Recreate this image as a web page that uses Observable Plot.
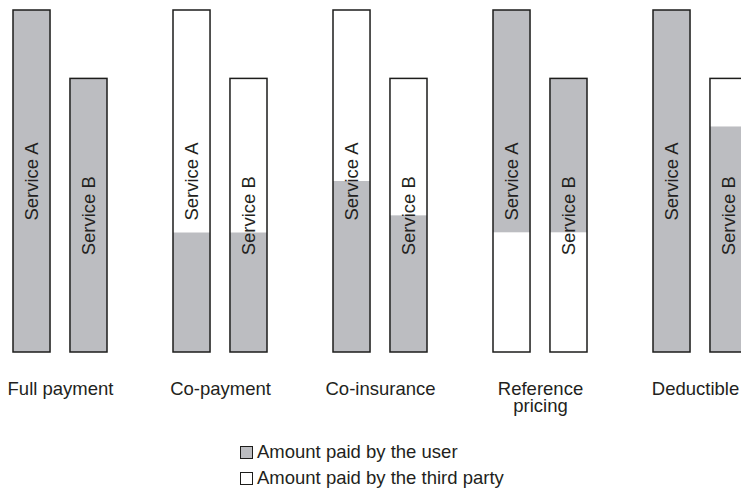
<!DOCTYPE html>
<html>
<head>
<meta charset="utf-8">
<script src="https://cdn.jsdelivr.net/npm/d3@7"></script>
<script src="https://cdn.jsdelivr.net/npm/@observablehq/plot@0.6"></script>
<style>
  html, body { margin: 0; padding: 0; background: #fff; }
  body { width: 741px; height: 492px; overflow: hidden; position: relative;
         font-family: "Liberation Sans", Arial, Helvetica, sans-serif; color: #231f20; }
  #chart { position: absolute; left: 0; top: 0; width: 747px; }
  #chart svg { display: block; max-width: none !important; }
  .legend { position: absolute; left: 240px; top: 0; font-size: 18.5px; line-height: 1; }
  .legend .row { position: absolute; left: 0; white-space: nowrap; height: 14px; }
  .legend .sw { position: absolute; left: 0; top: 0; width: 11px; height: 11px; border: 1.6px solid #1d1d1b; }
  .legend .lbl { position: absolute; left: 17px; top: -3px; }
</style>
</head>
<body>
<div id="chart"></div>
<div class="legend" id="legend"></div>
<script>
// ---- data ----
const policies = ["Full payment", "Co-payment", "Co-insurance", "Reference pricing", "Deductible"];
const policyLabels = ["Full payment", "Co-payment", "Co-insurance", "Reference\npricing", "Deductible"];
const services = ["Service A", "Service B"];
const userPaidA  = [100, 35, 50, 65, 100];
const thirdPaidA = [0, 65, 50, 35, 0];
const userPaidB  = [80, 35, 40, 45, 66];
const thirdPaidB = [0, 45, 40, 35, 14];
const userOnTop  = [false, false, false, true, false];
const payers = ["Amount paid by the user", "Amount paid by the third party"];

const GRAY = "#bcbdc1";
const INK = "#1d1d1b";

// build segments and totals from the arrays
const segments = [];
const totals = [];
policies.forEach((p, i) => {
  [[services[0], userPaidA[i], thirdPaidA[i]], [services[1], userPaidB[i], thirdPaidB[i]]].forEach(([s, u, t]) => {
    const order = userOnTop[i] ? [["third", t], ["user", u]] : [["user", u], ["third", t]];
    let acc = 0;
    for (const [payer, v] of order) {
      if (v > 0) segments.push({policy: p, service: s, payer, y1: acc, y2: acc + v});
      acc += v;
    }
    totals.push({policy: p, service: s, total: u + t});
  });
});

const labelOf = new Map(policies.map((p, i) => [p, policyLabels[i]]));
const axisOpts = {anchor: "bottom", tickSize: 0, tickPadding: 30, fontSize: 18.5, lineHeight: 0.92,
  tickFormat: d => labelOf.get(d), label: null, fill: "#231f20"};

const chart = Plot.plot({
  width: 747,
  height: 430,
  marginLeft: 13,
  marginRight: 0,
  marginTop: 10,
  marginBottom: 78,
  style: {fontFamily: "'Liberation Sans', Arial, Helvetica, sans-serif", fontSize: "18.5px", color: "#231f20", background: "white", maxWidth: "none", overflow: "visible"},
  fx: {domain: policies, paddingInner: 0.4125, paddingOuter: 0, round: false, label: null},
  x: {domain: services, paddingInner: 0.35, paddingOuter: 0, round: false, axis: null},
  y: {domain: [0, 100], axis: null},
  color: {domain: ["user", "third"], range: [GRAY, "white"]},
  marks: [
    Plot.barY(segments, {fx: "policy", x: "service", y1: "y1", y2: "y2", fill: "payer", inset: 0}),
    Plot.barY(totals, {fx: "policy", x: "service", y: "total", fill: "none", stroke: INK, strokeWidth: 1.5, inset: 0}),
    Plot.text(totals, {fx: "policy", x: "service", y: d => d.total / 2, text: "service", rotate: -90,
      fontSize: 18.5, fill: "#231f20", textAnchor: "middle", lineAnchor: "middle"}),
    Plot.axisFx({...axisOpts, ticks: policies.slice(0, 4)}),
    Plot.axisFx({...axisOpts, ticks: policies.slice(4), dx: -5})
  ]
});
chart.style.maxWidth = "none";
document.getElementById("chart").appendChild(chart);

// legend
const legend = document.getElementById("legend");
const fills = [GRAY, "white"];
const rowTops = [446, 472];
payers.forEach((name, i) => {
  const row = document.createElement("div");
  row.className = "row";
  row.style.top = rowTops[i] + "px";
  const sw = document.createElement("div");
  sw.className = "sw";
  sw.style.background = fills[i];
  const lbl = document.createElement("div");
  lbl.className = "lbl";
  lbl.textContent = name;
  row.appendChild(sw);
  row.appendChild(lbl);
  legend.appendChild(row);
});
</script>
</body>
</html>
